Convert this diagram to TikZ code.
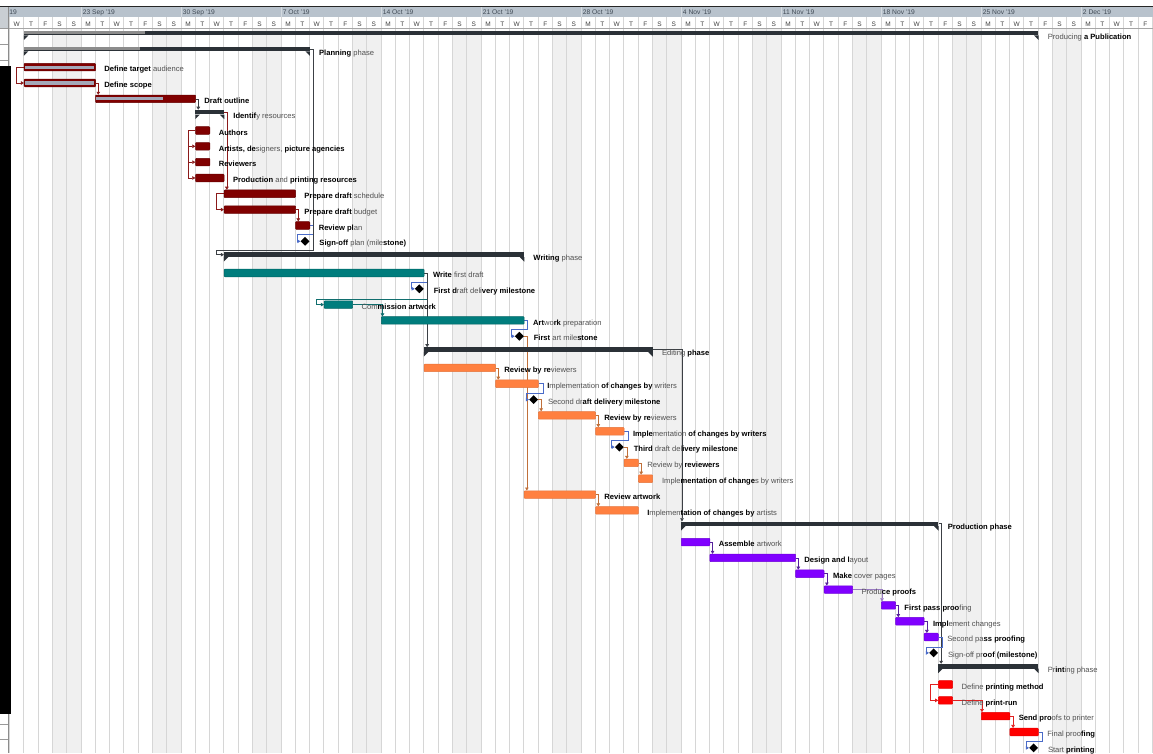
\documentclass[tikz,border=0pt]{standalone}
\usepackage{fontspec}
\setmainfont{Liberation Sans}
\usetikzlibrary{arrows.meta,positioning,shapes.geometric}

\definecolor{sumdark}{HTML}{2B3137}
\definecolor{sumprog}{HTML}{8C8C8C}
\definecolor{progray}{HTML}{A4A8B8}
\definecolor{planred}{HTML}{800000}
\definecolor{writeteal}{HTML}{007D7D}
\definecolor{editorange}{HTML}{FF8040}
\definecolor{prodviolet}{HTML}{8000FF}
\definecolor{printred}{HTML}{FF0000}
\definecolor{planlink}{HTML}{8B1A1A}
\definecolor{writelink}{HTML}{106E6E}
\definecolor{editlink}{HTML}{C0703A}
\definecolor{prodlink}{HTML}{55229A}
\definecolor{printlink}{HTML}{E02020}
\definecolor{mslink}{HTML}{4A6BC8}
\definecolor{sumlink}{HTML}{3C4045}
\definecolor{gridgray}{HTML}{D6D6D6}
\definecolor{weekend}{HTML}{F0F0F0}
\definecolor{wkslate}{HTML}{B8C2CC}
\definecolor{wktext}{HTML}{404A55}
\definecolor{tabgray}{HTML}{C9CED3}
\definecolor{labgray}{HTML}{505050}

\pgfdeclarelayer{back}
\pgfdeclarelayer{links}
\pgfsetlayers{back,links,main}

\def\dw{14.2857pt}
\newcommand{\bt}[1]{\textcolor{black}{\bfseries #1}}
\newcommand{\sumcaps}[1]{\fill[sumdark] (#1.south west) -- ++(0,-4.5pt) -- ++(4.5pt,4.5pt) -- cycle (#1.south east) -- ++(0,-4.5pt) -- ++(-4.5pt,4.5pt) -- cycle;}

\begin{document}
\begin{tikzpicture}[x=\dw,y=-15.83pt,
  taskbar/.style={rectangle,rounded corners=0.8pt,inner sep=0pt,minimum height=7.6pt,anchor=west,line width=0.5pt},
  planbar/.style={taskbar,fill=planred,draw=planred!80!black},
  writebar/.style={taskbar,fill=writeteal,draw=writeteal!80!black},
  editbar/.style={taskbar,fill=editorange,draw=editorange!90!black},
  prodbar/.style={taskbar,fill=prodviolet,draw=prodviolet!85!black},
  printbar/.style={taskbar,fill=printred,draw=printred!90!black},
  sumbar/.style={rectangle,fill=sumdark,inner sep=0pt,minimum height=4.5pt,anchor=south west},
  milestone/.style={diamond,fill=black,inner sep=0pt,minimum width=9pt,minimum height=9pt,xshift=-4.5pt},
  tasklabel/.style={font=\fontsize{7.6}{9}\selectfont,text=labgray,inner sep=0pt,anchor=west,text height=5.5pt,text depth=1.5pt},
  deplink/.style={line width=0.6pt,-{Triangle[length=3pt,width=3.6pt]}},
  dayline/.style={draw=gridgray,line width=0.75pt},
  weeklabel/.style={font=\fontsize{6.7}{8}\selectfont,text=wktext,anchor=base west,inner sep=0pt},
  dayletter/.style={font=\fontsize{6.5}{8}\selectfont,text=black!75,anchor=base,inner sep=0pt}]

% timescale and background, in pixel rows
\begin{pgfonlayer}{back}
\begin{scope}[yshift=35.5pt,y=-1pt]
\useasboundingbox (-5.67,0) rectangle (75.04,753);
\foreach \w in {-1,...,9}
  \fill[weekend] (7*\w+5,28.3) rectangle (7*\w+7,753);
\fill[wkslate] (-5.06,6.7) rectangle (75.1,17.3);
\fill[white] (-5.06,17.3) rectangle (75.1,28.3);
\foreach \d in {-5,...,75}
  \draw[dayline] (\d,17.3) -- (\d,753);
\foreach \w in {0,...,10}
  \draw[wkslate!60!white,line width=0.6pt] (7*\w,6.7) -- (7*\w,17.3);
\node[weeklabel] at (-5.02,15) {19};
\foreach \w/\t in {0/23 Sep '19,1/30 Sep '19,2/7 Oct '19,3/14 Oct '19,4/21 Oct '19,5/28 Oct '19,6/4 Nov '19,7/11 Nov '19,8/18 Nov '19,9/25 Nov '19,10/2 Dec '19}
  \node[weeklabel] at (7*\w+0.12,15) {\t};
\foreach \w in {-1,...,10}
  \foreach \l [count=\k from 0] in {M,T,W,T,F,S,S}{
    \pgfmathtruncatemacro\dd{7*\w+\k}
    \ifnum\dd>-6 \ifnum\dd<75
      \node[dayletter] at (\dd+0.5,26.7) {\l};
    \fi\fi}
\draw[black!35,line width=0.6pt] (-5.06,28.3) -- (75.1,28.3);
% table edge on the left
\fill[tabgray] (-5.67,6.7) rectangle (-5.06,28.3);
\foreach \p in {28.7,44,60,724,739}
  \draw[black!40,line width=0.6pt] (-5.67,\p) -- (-5.06,\p);
\draw[black!45,line width=0.7pt] (-5.06,6.7) -- (-5.06,753);
\fill[black] (-5.67,66) rectangle (-4.9,714);
\draw[black!85,line width=0.8pt] (-5.67,6.5) -- (75.1,6.5);
\end{scope}
\end{pgfonlayer}

% Producing a Publication
\node[sumbar,minimum width=71*\dw] (pub) at (-4,0) {};
\sumcaps{pub}
\fill[sumprog] ([yshift=-0.7pt]pub.north west) rectangle ([yshift=1.3pt]4.5,0);
\node[tasklabel,right=9pt of pub,yshift=-4.2pt] (publ) {Producing \bt{a Publication}};

% Planning phase
\node[sumbar,minimum width=20*\dw] (plp) at (-4,1) {};
\sumcaps{plp}
\fill[sumprog] ([yshift=-0.7pt]plp.north west) rectangle ([yshift=1.3pt]4.15,1);
\node[tasklabel,right=9pt of plp,yshift=-4.2pt] (plpl) {\bt{Planning} phase};
\node[planbar,minimum width=5*\dw] (adt) at (-4,2) {};
\fill[progray] ([xshift=1.2pt,yshift=1.6pt]adt.west) rectangle ([xshift=-1.6pt,yshift=-1.6pt]adt.east);
\node[tasklabel,right=8.5pt of adt,yshift=-2.8pt] (adtl) {\bt{Define target} audience};
\node[planbar,minimum width=5*\dw] (dsc) at (-4,3) {};
\fill[progray] ([xshift=1.2pt,yshift=1.6pt]dsc.west) rectangle ([xshift=-1.6pt,yshift=-1.6pt]dsc.east);
\node[tasklabel,right=8.5pt of dsc,yshift=-2.8pt] (dscl) {\bt{Define scope}};
\node[planbar,minimum width=7*\dw] (dro) at (1,4) {};
\fill[progray] ([xshift=1.2pt,yshift=1.6pt]dro.west) rectangle ([yshift=-1.6pt]5.74,4);
\node[tasklabel,right=8.5pt of dro,yshift=-2.8pt] (drol) {\bt{Draft outline}};
\node[sumbar,minimum width=2*\dw] (idr) at (8,5) {};
\sumcaps{idr}
\node[tasklabel,right=9pt of idr,yshift=-4.2pt] (idrl) {\bt{Identif}y resources};
\node[planbar,minimum width=1*\dw] (aut) at (8,6) {};
\node[tasklabel,right=8.5pt of aut,yshift=-2.8pt] (autl) {\bt{Authors}};
\node[planbar,minimum width=1*\dw] (art) at (8,7) {};
\node[tasklabel,right=8.5pt of art,yshift=-2.8pt] (artl) {\bt{Artists, de}signers, \bt{picture agencies}};
\node[planbar,minimum width=1*\dw] (rev) at (8,8) {};
\node[tasklabel,right=8.5pt of rev,yshift=-2.8pt] (revl) {\bt{Reviewers}};
\node[planbar,minimum width=2*\dw] (ppr) at (8,9) {};
\node[tasklabel,right=8.5pt of ppr,yshift=-2.8pt] (pprl) {\bt{Production} and \bt{printing resources}};
\node[planbar,minimum width=5*\dw] (pds) at (10,10) {};
\node[tasklabel,right=8.5pt of pds,yshift=-2.8pt] (pdsl) {\bt{Prepare draft} schedule};
\node[planbar,minimum width=5*\dw] (pdb) at (10,11) {};
\node[tasklabel,right=8.5pt of pdb,yshift=-2.8pt] (pdbl) {\bt{Prepare draft} budget};
\node[planbar,minimum width=1*\dw] (rvp) at (15,12) {};
\node[tasklabel,right=8.5pt of rvp,yshift=-2.8pt] (rvpl) {\bt{Review pl}an};
\node[milestone] (sop) at (16,13) {};
\node[tasklabel,right=9.5pt of sop,yshift=-2.6pt] (sopl) {\bt{Sign-off} plan (mile\bt{stone)}};

% Writing phase
\node[sumbar,minimum width=21*\dw] (wrp) at (10,14) {};
\sumcaps{wrp}
\node[tasklabel,right=9pt of wrp,yshift=-4.2pt] (wrpl) {\bt{Writing} phase};
\node[writebar,minimum width=14*\dw] (wfd) at (10,15) {};
\node[tasklabel,right=8.5pt of wfd,yshift=-2.8pt] (wfdl) {\bt{Write} first draft};
\node[milestone] (fdm) at (24,16) {};
\node[tasklabel,right=9.5pt of fdm,yshift=-2.6pt] (fdml) {\bt{First d}raft deli\bt{very milestone}};
\node[writebar,minimum width=2*\dw] (cma) at (17,17) {};
\node[tasklabel,right=8.5pt of cma,yshift=-2.8pt] (cmal) {Com\bt{mission artwork}};
\node[writebar,minimum width=10*\dw] (apr) at (21,18) {};
\node[tasklabel,right=8.5pt of apr,yshift=-2.8pt] (aprl) {\bt{Art}wo\bt{rk} preparation};
\node[milestone] (fam) at (31,19) {};
\node[tasklabel,right=9.5pt of fam,yshift=-2.6pt] (faml) {\bt{First} art mile\bt{stone}};

% Editing phase
\node[sumbar,minimum width=16*\dw] (edp) at (24,20) {};
\sumcaps{edp}
\node[tasklabel,right=9pt of edp,yshift=-4.2pt] (edpl) {Editing \bt{phase}};
\node[editbar,minimum width=5*\dw] (rr1) at (24,21) {};
\node[tasklabel,right=8.5pt of rr1,yshift=-2.8pt] (rr1l) {\bt{Review by re}viewers};
\node[editbar,minimum width=3*\dw] (ic1) at (29,22) {};
\node[tasklabel,right=8.5pt of ic1,yshift=-2.8pt] (ic1l) {\bt{I}mplementation \bt{of changes by} writers};
\node[milestone] (sdm) at (32,23) {};
\node[tasklabel,right=9.5pt of sdm,yshift=-2.6pt] (sdml) {Second dr\bt{aft delivery milestone}};
\node[editbar,minimum width=4*\dw] (rr2) at (32,24) {};
\node[tasklabel,right=8.5pt of rr2,yshift=-2.8pt] (rr2l) {\bt{Review by re}viewers};
\node[editbar,minimum width=2*\dw] (ic2) at (36,25) {};
\node[tasklabel,right=8.5pt of ic2,yshift=-2.8pt] (ic2l) {\bt{Imple}mentation \bt{of changes by writers}};
\node[milestone] (tdm) at (38,26) {};
\node[tasklabel,right=9.5pt of tdm,yshift=-2.6pt] (tdml) {\bt{Third} draft del\bt{ivery milestone}};
\node[editbar,minimum width=1*\dw] (rr3) at (38,27) {};
\node[tasklabel,right=8.5pt of rr3,yshift=-2.8pt] (rr3l) {Review by \bt{reviewers}};
\node[editbar,minimum width=1*\dw] (ic3) at (39,28) {};
\node[tasklabel,right=9pt of ic3,yshift=-2.8pt] (ic3l) {Imple\bt{mentation of change}s by writers};
\node[editbar,minimum width=5*\dw] (rva) at (31,29) {};
\node[tasklabel,right=8.5pt of rva,yshift=-2.8pt] (rval) {\bt{Review artwork}};
\node[editbar,minimum width=3*\dw] (ica) at (36,30) {};
\node[tasklabel,right=8.5pt of ica,yshift=-2.8pt] (ical) {\bt{I}mplemen\bt{tation of changes by} artists};

% Production phase
\node[sumbar,minimum width=18*\dw] (prp) at (42,31) {};
\sumcaps{prp}
\node[tasklabel,right=9pt of prp,yshift=-4.2pt] (prpl) {\bt{Production phase}};
\node[prodbar,minimum width=2*\dw] (asa) at (42,32) {};
\node[tasklabel,right=8.5pt of asa,yshift=-2.8pt] (asal) {\bt{Assemble} artwork};
\node[prodbar,minimum width=6*\dw] (dal) at (44,33) {};
\node[tasklabel,right=8.5pt of dal,yshift=-2.8pt] (dall) {\bt{Design and l}ayout};
\node[prodbar,minimum width=2*\dw] (mcp) at (50,34) {};
\node[tasklabel,right=8.5pt of mcp,yshift=-2.8pt] (mcpl) {\bt{Make} cover pages};
\node[prodbar,minimum width=2*\dw] (ppf) at (52,35) {};
\node[tasklabel,right=8.5pt of ppf,yshift=-2.8pt] (ppfl) {Produ\bt{ce proofs}};
\node[prodbar,minimum width=1*\dw] (fpp) at (56,36) {};
\node[tasklabel,right=8.5pt of fpp,yshift=-2.8pt] (fppl) {\bt{First pass proo}fing};
\node[prodbar,minimum width=2*\dw] (imc) at (57,37) {};
\node[tasklabel,right=8.5pt of imc,yshift=-2.8pt] (imcl) {\bt{Impl}ement changes};
\node[prodbar,minimum width=1*\dw] (spp) at (59,38) {};
\node[tasklabel,right=8.5pt of spp,yshift=-2.8pt] (sppl) {Second pa\bt{ss proofing}};
\node[milestone] (spm) at (60,39) {};
\node[tasklabel,right=9.5pt of spm,yshift=-2.6pt] (spml) {Sign-off pr\bt{oof (milestone)}};

% Printing phase
\node[sumbar,minimum width=7*\dw] (pbp) at (60,40) {};
\sumcaps{pbp}
\node[tasklabel,right=9pt of pbp,yshift=-4.2pt] (pbpl) {Pr\bt{int}ing phase};
\node[printbar,minimum width=1*\dw] (dpm) at (60,41) {};
\node[tasklabel,right=8.5pt of dpm,yshift=-2.8pt] (dpml) {Define \bt{printing method}};
\node[printbar,minimum width=1*\dw] (dpr) at (60,42) {};
\node[tasklabel,right=8.5pt of dpr,yshift=-2.8pt] (dprl) {Define \bt{print-run}};
\node[printbar,minimum width=2*\dw] (spt) at (63,43) {};
\node[tasklabel,right=8.5pt of spt,yshift=-2.8pt] (sptl) {\bt{Send pro}ofs to printer};
\node[printbar,minimum width=2*\dw] (fpr) at (65,44) {};
\node[tasklabel,right=8.5pt of fpr,yshift=-2.8pt] (fprl) {Final proo\bt{fing}};
\node[milestone] (stp) at (67,45) {};
\node[tasklabel,right=9.5pt of stp,yshift=-2.6pt] (stpl) {Start \bt{printing}};

% dependency links
\begin{pgfonlayer}{links}
\draw[deplink,planlink] (adt.west) -- ++(-7.3pt,0) |- (dsc.west);
\draw[deplink,planlink] (dsc.east) -| ([xshift=3pt]dro.north west);
\draw[deplink,sumlink] (dro.east) -| ([xshift=3pt]idr.north west);
\draw[deplink,planlink] (idr.east) -| ([xshift=3pt]pds.north west);
\draw[deplink,planlink] (aut.west) -- ++(-6.7pt,0) |- (art.west);
\draw[deplink,planlink] (aut.west) -- ++(-6.7pt,0) |- (rev.west);
\draw[deplink,planlink] (aut.west) -- ++(-6.7pt,0) |- (ppr.west);
\draw[deplink,planlink] (pds.west) -- ++(-7.3pt,0) |- (pdb.west);
\draw[deplink,planlink] (pdb.east) -| ([xshift=3pt]rvp.north west);
\draw[deplink,mslink] (rvp.east) -- ++(3pt,0) -- ++(0,-9pt) -| ([xshift=-3pt]sop.west) -- (sop.west);
\draw[deplink,sumlink] (plp.east) -- ++(3.5pt,0) |- ([xshift=-7.3pt,yshift=2.3pt]wrp.north west) |- (wrp.west);
\draw[deplink,mslink] (wfd.east) -- ++(3.3pt,0) -- ++(0,-9pt) -| ([xshift=-3pt]fdm.west) -- (fdm.west);
\draw[deplink,writelink] (wfd.east) -- ++(3.3pt,0) |- ([xshift=-7.3pt,yshift=1.4pt]cma.north west) |- (cma.west);
\draw[deplink,sumlink] (wfd.east) -| ([xshift=3.3pt]edp.north west);
\draw[deplink,writelink] (cma.east) -| ([xshift=1.5pt]apr.north west);
\draw[deplink,mslink] (apr.east) -- ++(3.3pt,0) -- ++(0,-9pt) -| ([xshift=-3pt]fam.west) -- (fam.west);
\draw[deplink,editlink] (fam.east) -| ([xshift=3pt]rva.north west);
\draw[deplink,sumlink] (edp.east) -| ([xshift=1pt]prp.north west);
\draw[deplink,editlink] (rr1.east) -| ([xshift=3pt]ic1.north west);
\draw[deplink,mslink] (ic1.east) -- ++(4.3pt,0) -- ++(0,-9.5pt) -| ([xshift=-3pt]sdm.west) -- (sdm.west);
\draw[deplink,editlink] (sdm.east) -| ([xshift=3pt]rr2.north west);
\draw[deplink,editlink] (rr2.east) -| ([xshift=3pt]ic2.north west);
\draw[deplink,mslink] (ic2.east) -- ++(3.7pt,0) -- ++(0,-9pt) -| ([xshift=-3pt]tdm.west) -- (tdm.west);
\draw[deplink,editlink] (tdm.east) -| ([xshift=3pt]rr3.north west);
\draw[deplink,editlink] (rr3.east) -| ([xshift=3pt]ic3.north west);
\draw[deplink,editlink] (rva.east) -| ([xshift=3pt]ica.north west);
\draw[deplink,sumlink] (prp.east) -| ([xshift=3pt]pbp.north west);
\draw[deplink,prodlink] (asa.east) -| ([xshift=3pt]dal.north west);
\draw[deplink,prodlink] (dal.east) -| ([xshift=3pt]mcp.north west);
\draw[deplink,prodlink] (mcp.east) -| ([xshift=3pt]ppf.north west);
\draw[deplink,prodlink!60!white] (ppf.east) -| ([xshift=1pt]fpp.north west);
\draw[deplink,prodlink] (fpp.east) -| ([xshift=3pt]imc.north west);
\draw[deplink,prodlink] (imc.east) -| ([xshift=3pt]spp.north west);
\draw[deplink,mslink] (spp.east) -- ++(3.6pt,0) -- ++(0,-10pt) -| ([xshift=-3pt]spm.west) -- (spm.west);
\draw[deplink,printlink] (dpm.west) -- ++(-7.6pt,0) |- (dpr.west);
\draw[deplink,printlink] (dpr.east) -| ([xshift=1pt]spt.north west);
\draw[deplink,printlink] (spt.east) -| ([xshift=3.5pt]fpr.north west);
\draw[deplink,mslink] (fpr.east) -- ++(3.7pt,0) -- ++(0,-9pt) -| ([xshift=-3pt]stp.west) -- (stp.west);
\end{pgfonlayer}
\end{tikzpicture}
\end{document}
